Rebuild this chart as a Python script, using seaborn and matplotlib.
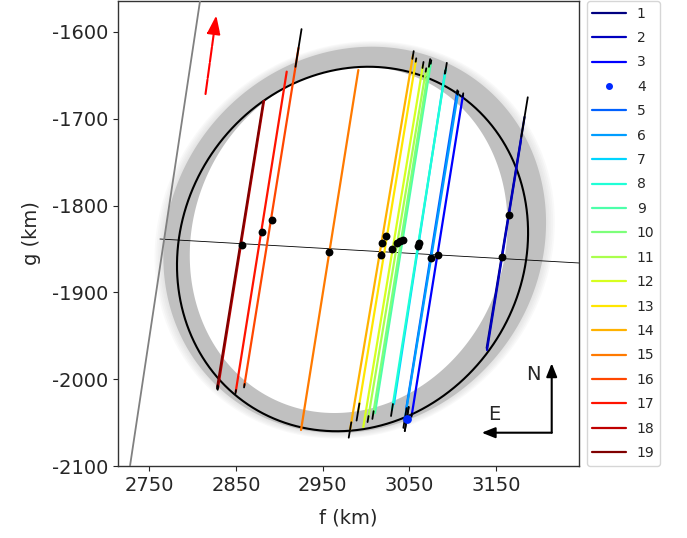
import numpy as np
import matplotlib
matplotlib.use("Agg")
import matplotlib.pyplot as plt
from matplotlib.lines import Line2D
import seaborn as sns

# chord ends (km); "bottom" = southern end, "top" = northern end
chord_labels = [str(i) for i in range(1, 20)]
f_bottom = [3139.3, 3139.6, 3052.8, 3047.0, 3046.2, 3045.0, 3032.3, 3030.0, 3010.4, 3008.1,
            3002.4, 2996.9, 2990.8, 2981.6, 2925.1, 2859.7, 2849.8, 2829.3, 2828.5]
g_bottom = [-1964.1, -1966.4, -2041.3, -2045.9, -2035.5, -2044.7, -2028.6, -2035.5, -2039.0, -2041.3,
            -2045.9, -2055.1, -2037.8, -2058.5, -2058.5, -2007.5, -2014.4, -2010.2, -2009.0]
f_top = [3182.9, 3178.8, 3111.9, 3047.0, 3105.0, 3106.2, 3091.2, 3092.3, 3075.0, 3073.3,
         3069.2, 3065.8, 3057.7, 3054.3, 2991.2, 2922.2, 2908.6, 2882.4, 2881.6]
g_top = [-1697.9, -1724.4, -1672.6, -2045.9, -1669.1, -1670.3, -1646.1, -1641.5, -1634.6, -1635.7,
         -1643.8, -1638.0, -1632.3, -1626.5, -1643.8, -1618.4, -1645.7, -1679.5, -1680.3]
# timing error bars (km along the chord)
err_bottom = [0, 0, 2, 14, 0, 11.5, 0, 7, 0, 4.5, 3.5, 0, 10, 9, 0, 2, 2, 2, 2]
err_top = [23, 0, 2, 14, 2, 2, 2, 6, 2, 4.5, 2, 3.5, 2, 4.5, 0, 22, 0, 0, 0]

# chord centres (black dots)
dot_f = [2856.7, 2879.7, 2891.3, 2957.7, 3023.1, 3018.8, 3017.0, 3030.4, 3036.2, 3039.3,
         3043.1, 3061.5, 3060.4, 3075.0, 3082.7, 3165.3, 3156.6]
dot_g = [-1845.4, -1830.4, -1816.6, -1853.1, -1835.0, -1842.7, -1856.9, -1850.0, -1843.4, -1841.1,
         -1839.6, -1843.4, -1846.5, -1860.7, -1857.3, -1810.8, -1859.6]

# best-fit ellipse
center_f, center_g = 2984.5, -1850.0
semi_major, semi_minor = 216.0, 196.0
major_angle = 56.0

# spread of the solutions (gray band): inner and outer envelope
band_scale_f = [0.905, 1.09]
band_scale_g = [0.95, 1.06]
band_shift_f = [-4.5, 2.5]
band_shift_g = [10.5, 10.5]
fuzz_scale_f = [1.10, 1.11, 1.12, 1.13, 1.14]
fuzz_scale_g = [1.066, 1.072, 1.078, 1.084, 1.09]

# negative chord and centre line
neg_f = [2720.3, 2818.3]
neg_g = [-2150.0, -1500.0]
line_f = [2762.4, 3270.0]
line_g = [-1838.5, -1867.5]

sns.set_style("ticks")
plt.rcParams.update({
    "axes.unicode_minus": False,
    "xtick.major.size": 3.5, "ytick.major.size": 3.5,
    "axes.edgecolor": "0.2", "xtick.color": "0.15", "ytick.color": "0.15",
    "axes.linewidth": 1.0,
})

fig = plt.figure(figsize=(6.87, 5.38), dpi=100)
ax = fig.add_axes([118 / 687, 72 / 538, 461 / 687, 465 / 538])

t = np.linspace(0, 2 * np.pi, 721)
phi = np.radians(major_angle)
u, v = semi_major * np.cos(t), semi_minor * np.sin(t)
ell_f = center_f + u * np.cos(phi) - v * np.sin(phi)
ell_g = center_g + u * np.sin(phi) + v * np.cos(phi)


def scaled(sf, sg, df, dg):
    return (center_f + sf * (ell_f - center_f) + df,
            center_g + sg * (ell_g - center_g) + dg)


# gray band
for sf, sg in zip(fuzz_scale_f, fuzz_scale_g):
    ff, gg = scaled(sf, sg, band_shift_f[1], band_shift_g[1])
    ax.fill(ff, gg, color="silver", alpha=0.09, lw=0, zorder=0.8)
ff, gg = scaled(band_scale_f[1], band_scale_g[1], band_shift_f[1], band_shift_g[1])
ax.fill(ff, gg, color="silver", lw=0, zorder=0.9)
ff, gg = scaled(band_scale_f[0], band_scale_g[0], band_shift_f[0], band_shift_g[0])
ax.fill(ff, gg, color="white", lw=0, zorder=1.0)

sns.lineplot(x=ell_f, y=ell_g, sort=False, estimator=None, color="black", lw=1.5, ax=ax, zorder=2)
sns.lineplot(x=neg_f, y=neg_g, sort=False, estimator=None, color="gray", lw=1.3, ax=ax, zorder=3)
sns.lineplot(x=line_f, y=line_g, sort=False, estimator=None, color="black", lw=0.6, ax=ax, zorder=2.5)

colors = plt.cm.jet(np.linspace(0, 1, len(chord_labels)))
handles = []
for i, lab in enumerate(chord_labels):
    c = colors[i]
    fb, gb, ft, gt = f_bottom[i], g_bottom[i], f_top[i], g_top[i]
    length = np.hypot(ft - fb, gt - gb)
    if length > 0:
        d = np.array([ft - fb, gt - gb]) / length
        sns.lineplot(x=[fb, ft], y=[gb, gt], sort=False, estimator=None, color=c, lw=1.6, ax=ax, zorder=3)
        handles.append(Line2D([], [], color=c, lw=1.6, label=lab))
    else:
        d = np.array([0.16, 0.987])
        sns.scatterplot(x=[fb], y=[gb], color=c, s=40, linewidth=0, ax=ax, zorder=4.5)
        handles.append(Line2D([], [], color=c, marker=".", ls="none", markersize=8, label=lab))
    for (pf, pg), e in (((fb, gb), err_bottom[i]), ((ft, gt), err_top[i])):
        if e > 0:
            ax.plot([pf - e * d[0], pf + e * d[0]], [pg - e * d[1], pg + e * d[1]],
                    color="black", lw=1.3, zorder=4)

sns.scatterplot(x=dot_f, y=dot_g, color="black", s=32, linewidth=0, ax=ax, zorder=5)

# direction arrows
ax.annotate("", xy=(0.214, 0.975), xytext=(0.189, 0.794), xycoords="axes fraction",
            arrowprops=dict(arrowstyle="-|>,head_length=0.7,head_width=0.25", color="red",
                            lw=1.5, ls=(0, (7, 0.8)), mutation_scale=16))
ax.annotate("", xy=(0.9408, 0.2209), xytext=(0.9408, 0.0716), xycoords="axes fraction",
            arrowprops=dict(arrowstyle="-|>,head_length=0.5,head_width=0.2", color="black",
                            lw=1.5, mutation_scale=16, shrinkA=0, shrinkB=0))
ax.annotate("", xy=(0.789, 0.0716), xytext=(0.9408, 0.0716), xycoords="axes fraction",
            arrowprops=dict(arrowstyle="-|>,head_length=0.5,head_width=0.2", color="black",
                            lw=1.5, mutation_scale=16, shrinkA=0, shrinkB=0))
ax.text(0.902, 0.1957, "N", transform=ax.transAxes, ha="center", va="center", fontsize=14)
ax.text(0.8156, 0.1097, "E", transform=ax.transAxes, ha="center", va="center", fontsize=14)

ax.set_xlim(2714.0, 3245.7)
ax.set_ylim(-2100.0, -1564.3)
ax.set_xticks([2750, 2850, 2950, 3050, 3150])
ax.set_yticks([-2100, -2000, -1900, -1800, -1700, -1600])
ax.tick_params(labelsize=14)
ax.set_xlabel("f (km)", fontsize=14, labelpad=10)
ax.set_ylabel("g (km)", fontsize=14, labelpad=8)

ax.legend(handles=handles, loc="upper left", bbox_to_anchor=(1.017, 1.0), borderaxespad=0,
          fontsize=10, labelspacing=0.75, handlelength=2.4)

fig.savefig("out.png", dpi=100)
